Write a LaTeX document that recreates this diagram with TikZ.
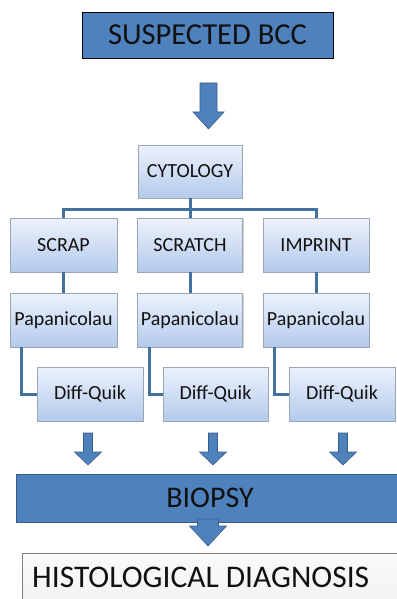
\documentclass[tikz,border=0pt]{standalone}
\usepackage{fontspec}
\setmainfont{Carlito}
\usetikzlibrary{calc,shadows}
\definecolor{bluefill}{HTML}{4F81BD}
\definecolor{blueedge}{HTML}{385D8A}
\definecolor{conncol}{HTML}{41719C}
\definecolor{gradtop}{HTML}{ECF2FC}
\definecolor{gradbot}{HTML}{B4CAEC}
\definecolor{boxedge}{HTML}{9AA6B6}
\definecolor{txt}{HTML}{111111}
\tikzset{
  x=1pt, y=1pt,
  lightbox/.style={draw=boxedge, line width=0.8pt, top color=gradtop, bottom color=gradbot,
    minimum width=105pt, minimum height=54pt, inner sep=0pt, text=txt,
    font=\fontsize{20}{22}\selectfont,
    drop shadow={shadow xshift=1.2pt, shadow yshift=-1.2pt, opacity=0.35, fill=gray}},
  darkbox/.style={draw=black, line width=0.8pt, fill=bluefill, inner sep=0pt},
  conn/.style={draw=conncol, line width=3pt},
  blockarrow/.style={fill=bluefill, draw=blueedge, line width=0.6pt},
  bigtext/.style={text=txt, font=\fontsize{30}{34}\selectfont}
}
% \downarr{xc}{ytop}{ybot}{shaft w}{head w}{head len}
\newcommand{\downarr}[6]{%
  \path[blockarrow] (#1-#4/2,#2) -- (#1+#4/2,#2) -- (#1+#4/2,#3+#6) -- (#1+#5/2,#3+#6)
    -- (#1,#3) -- (#1-#5/2,#3+#6) -- (#1-#4/2,#3+#6) -- cycle;}
\begin{document}
\begin{tikzpicture}
\useasboundingbox[fill=white] (0,0) rectangle (396,-599);
% top box
\node[darkbox, minimum width=251pt, minimum height=46pt, bigtext, font=\fontsize{30.5}{34}\selectfont] (sbcc) at (207.5,-35) {SUSPECTED BCC};
% arrow 1
\downarr{208.5}{-83}{-129}{17}{31}{17}
% cytology
\node[lightbox, minimum width=104pt, minimum height=53pt] (cyto) at (190,-171.5) {CYTOLOGY};
% row 2
\node[lightbox, minimum width=107pt] (scrap) at (63.5,-245) {SCRAP};
\node[lightbox] (scratch) at (190,-245) {SCRATCH};
\node[lightbox, minimum width=106pt] (imprint) at (316,-245) {IMPRINT};
% row 3
\node[lightbox, minimum width=107pt] (pap1) at (63.5,-320) {Papanicolau};
\node[lightbox] (pap2) at (190,-320) {Papanicolau};
\node[lightbox, minimum width=106pt] (pap3) at (316,-320) {Papanicolau};
% connectors
\coordinate (bus) at (190,-209);
\draw[conn] (cyto.south) -- (bus);
\draw[conn] (bus) -| (scrap.north);
\draw[conn] (bus) -| (imprint.north);
\draw[conn] (bus) -- (scratch.north);
\draw[conn] (scrap.south) -- (pap1.north);
\draw[conn] (scratch.south) -- (pap2.north);
\draw[conn] (imprint.south) -- (pap3.north);
% row 4
\node[lightbox, minimum width=106pt] (diff1) at (90,-394) {Diff-Quik};
\node[lightbox] (diff2) at (215.5,-394) {Diff-Quik};
\node[lightbox, minimum width=106pt] (diff3) at (342,-394) {Diff-Quik};
\draw[conn] ($(pap1.south west)+(12,0)$) |- (diff1.west);
\draw[conn] ($(pap2.south west)+(12,0)$) |- (diff2.west);
\draw[conn] ($(pap3.south west)+(12,0)$) |- (diff3.west);
% small arrows
\downarr{88}{-433}{-465}{9}{27}{13}
\downarr{213}{-433}{-465}{9}{27}{13}
\downarr{343}{-433}{-465}{9}{27}{13}
% biopsy
\path[darkbox, draw=blueedge] (16,-474) rectangle (400,-522);
\node[bigtext, inner sep=0pt] (biopsy) at (210,-498) {BIOPSY};
% arrow under biopsy
\downarr{208}{-519}{-546}{21}{37}{20}
% histological diagnosis
\path[draw=gray, line width=0.8pt, top color=gray!4, bottom color=gray!10] (22,-553) rectangle (400,-605);
\node[bigtext, font=\fontsize{31.5}{34}\selectfont, anchor=base west, inner sep=0pt] (histo) at (32,-587) {HISTOLOGICAL DIAGNOSIS};
\end{tikzpicture}
\end{document}
